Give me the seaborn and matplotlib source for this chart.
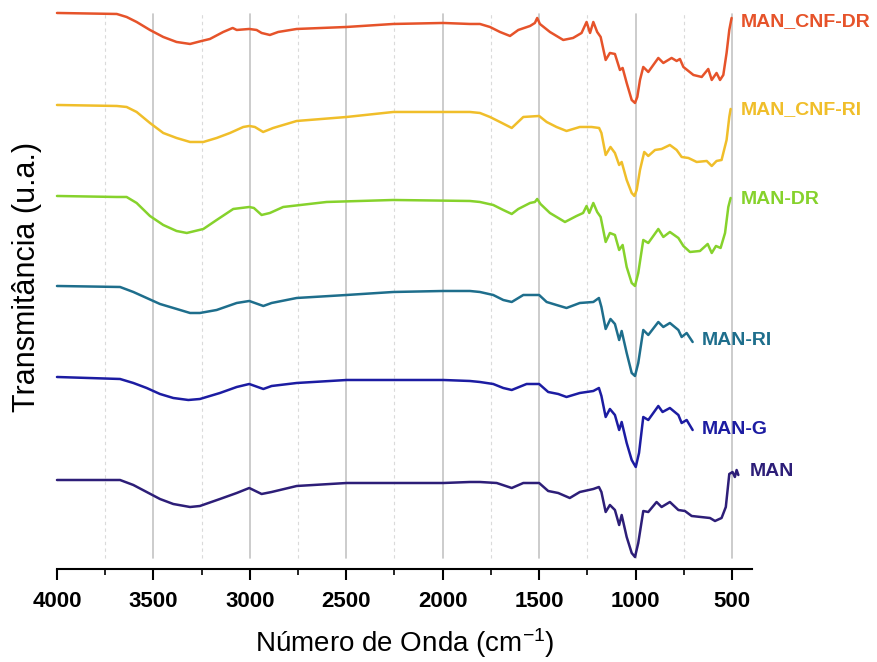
import matplotlib
matplotlib.use("Agg")
import matplotlib.pyplot as plt
from matplotlib.ticker import MultipleLocator
import pandas as pd
import seaborn as sns

# FTIR spectra (wavenumber in cm-1, transmittance in arbitrary stacked units)
cnf_dr_wn = [4000, 3690, 3639, 3587, 3518, 3449, 3380, 3310, 3250, 3207, 3138, 3089, 3068, 3003, 2965,
             2939, 2896, 2853, 2757, 2498, 2256, 1997, 1859, 1807, 1755, 1703, 1651, 1608, 1547, 1522,
             1510, 1496, 1444, 1375, 1324, 1280, 1254, 1236, 1219, 1199, 1181, 1155, 1133, 1107, 1081,
             1067, 1046, 1020, 1003, 991, 977, 960, 934, 908, 882, 856, 813, 787, 770, 752, 700, 657,
             623, 605, 580, 562, 545, 528, 514, 502]
cnf_dr_t = [545, 544, 541, 536, 528, 521, 516, 514, 517, 519, 526, 530, 528, 529, 528,
            525, 523, 526, 529, 531, 534, 535, 534, 534, 531, 526, 522, 528, 532, 535,
            540, 534, 526, 518, 520, 525, 536, 525, 536, 526, 521, 498, 505, 504, 488,
            490, 475, 458, 455, 461, 478, 491, 486, 493, 500, 495, 500, 497, 499, 491, 483, 481,
            489, 478, 485, 478, 483, 505, 528, 540]

cnf_ri_wn = [4000, 3690, 3639, 3587, 3518, 3449, 3380, 3310, 3241, 3172, 3103, 3034, 3003, 2974, 2931,
             2879, 2757, 2498, 2256, 1859, 1807, 1755, 1703, 1642, 1582, 1500, 1461, 1410, 1358, 1289,
             1228, 1189, 1177, 1155, 1130, 1107, 1085, 1072, 1046, 1020, 1006, 994, 977, 955, 934,
             899, 865, 822, 787, 761, 726, 683, 631, 605, 580, 554, 528, 514, 507]
cnf_ri_t = [453, 452, 451, 446, 435, 425, 420, 416, 416, 420, 425, 431, 432, 431, 426,
            430, 437, 441, 446, 446, 445, 441, 436, 430, 441, 442, 436, 431, 427, 431,
            431, 430, 425, 403, 411, 405, 393, 396, 378, 365, 362, 368, 388, 406, 402,
            408, 409, 413, 408, 401, 400, 396, 397, 392, 397, 398, 418, 441, 449]

dr_wn = [4000, 3690, 3639, 3587, 3518, 3449, 3380, 3327, 3241, 3172, 3086, 3003, 2979, 2939, 2896,
         2827, 2602, 2256, 1859, 1807, 1738, 1686, 1642, 1608, 1547, 1522, 1510, 1493, 1444, 1366,
         1306, 1272, 1254, 1240, 1219, 1199, 1181, 1155, 1133, 1107, 1085, 1067, 1046, 1020, 1003,
         986, 960, 934, 882, 856, 822, 778, 752, 718, 666, 626, 605, 583, 559, 536, 519, 507]
dr_t = [362, 361, 361, 355, 342, 333, 327, 325, 329, 338, 349, 351, 350, 343, 345,
        351, 356, 358, 357, 356, 353, 348, 344, 349, 355, 356, 359, 354, 345, 336,
        342, 345, 352, 345, 355, 346, 341, 316, 325, 323, 308, 313, 291, 275, 272,
        285, 318, 315, 329, 321, 326, 320, 312, 306, 307, 314, 305, 312, 310, 325, 351, 360]

ri_wn = [4000, 3673, 3604, 3535, 3466, 3379, 3310, 3259, 3172, 3068, 3003, 2930, 2887, 2757, 2498,
         2256, 1997, 1859, 1807, 1738, 1686, 1642, 1582, 1500, 1461, 1410, 1358, 1289, 1219, 1190,
         1177, 1155, 1130, 1107, 1085, 1072, 1046, 1020, 1003, 986, 960, 934, 882, 856, 822,
         778, 761, 735, 704]
ri_t = [272, 271, 266, 260, 254, 249, 245, 245, 248, 255, 257, 252, 255, 260, 263,
        266, 267, 267, 266, 263, 258, 256, 263, 263, 256, 253, 250, 255, 256, 260,
        251, 229, 239, 234, 218, 227, 205, 185, 182, 195, 228, 223, 236, 231, 235,
        228, 221, 225, 216]

g_wn = [4000, 3673, 3604, 3535, 3466, 3397, 3319, 3259, 3155, 3068, 3003, 2930, 2887, 2757, 2498,
        1997, 1859, 1807, 1738, 1686, 1642, 1565, 1500, 1453, 1401, 1358, 1289, 1219, 1190, 1177,
        1155, 1133, 1107, 1085, 1072, 1046, 1020, 999, 982, 960, 934, 882, 860, 822, 778,
        761, 735, 704]
g_t = [181, 179, 175, 170, 164, 160, 158, 159, 165, 171, 174, 169, 172, 175, 178,
       178, 177, 176, 174, 170, 168, 174, 174, 166, 164, 161, 165, 167, 170, 162,
       141, 149, 143, 128, 136, 115, 98, 91, 105, 141, 138, 152, 146, 150, 143,
       135, 138, 128]

man_wn = [4000, 3673, 3604, 3535, 3466, 3397, 3310, 3259, 3155, 3068, 3003, 2939, 2887, 2757, 2498,
          1997, 1859, 1807, 1720, 1642, 1582, 1500, 1453, 1401, 1341, 1289, 1219, 1190, 1177, 1155,
          1133, 1107, 1085, 1072, 1046, 1020, 1003, 986, 960, 934, 891, 865, 822, 778, 744,
          709, 614, 588, 554, 532, 514, 497, 485, 476, 467]
man_t = [78, 78, 73, 66, 59, 54, 51, 52, 59, 65, 70, 64, 66, 72, 75,
         75, 76, 76, 75, 70, 75, 75, 67, 65, 60, 66, 69, 71, 66, 46,
         53, 48, 33, 43, 21, 5, 1, 15, 47, 46, 56, 51, 56, 48, 47,
         42, 40, 37, 40, 51, 84, 86, 81, 88, 83]

samples = ["MAN_CNF-DR", "MAN_CNF-RI", "MAN-DR", "MAN-RI", "MAN-G", "MAN"]
colors = ["#E6532A", "#F0BE2A", "#86D22C", "#1E6E8C", "#1C1CA2", "#2D1E78"]

# label anchors (wavenumber, transmittance)
label_wn = [453, 453, 453, 656, 656, 407]
label_t = [536, 448, 358, 217, 128, 86]

major_grid = [3500, 3000, 2500, 2000, 1500, 1000, 500]
minor_grid = [3750, 3250, 2750, 2250, 1750, 1250, 750]

spectra = [(cnf_dr_wn, cnf_dr_t), (cnf_ri_wn, cnf_ri_t), (dr_wn, dr_t),
           (ri_wn, ri_t), (g_wn, g_t), (man_wn, man_t)]
frames = []
for name, (wn, t) in zip(samples, spectra):
    frames.append(pd.DataFrame({"wn": wn, "T": t, "amostra": name}))
df = pd.concat(frames, ignore_index=True)

sns.set_theme(style="white")
plt.rcParams["font.family"] = ["Liberation Sans", "DejaVu Sans"]
plt.rcParams["mathtext.default"] = "regular"

fig = plt.figure(figsize=(8.78, 6.62), dpi=100)
ax = fig.add_axes([0.0649, 0.1571, 0.7912, 0.8218])

# vertical reference lines behind the spectra
for g in major_grid:
    ax.axvline(g, color="#c4c4c4", linewidth=1.2, zorder=0)
for g in minor_grid:
    ax.axvline(g, color="#dadada", linewidth=0.8, linestyle=(0, (3, 3)), zorder=0)

sns.lineplot(data=df, x="wn", y="T", hue="amostra", hue_order=samples,
             palette=dict(zip(samples, colors)), sort=False, estimator=None,
             legend=False, linewidth=1.8, ax=ax)
for ln in ax.lines:
    ln.set_clip_on(False)
    ln.set_solid_joinstyle("round")

ax.set_xlim(4000, 398)
ax.set_ylim(0, 544)
ax.set_yticks([])
ax.grid(False)

for side in ["top", "right", "left"]:
    ax.spines[side].set_visible(False)
ax.spines["bottom"].set_position(("outward", 8))
ax.spines["bottom"].set_linewidth(1.5)
ax.spines["bottom"].set_color("black")

ax.xaxis.set_major_locator(MultipleLocator(500))
ax.xaxis.set_minor_locator(MultipleLocator(250))
ax.tick_params(axis="x", which="major", direction="out", length=8, width=1.5,
               labelsize=16, pad=8, bottom=True, colors="black")
ax.tick_params(axis="x", which="minor", direction="out", length=4.5, width=1.2,
               bottom=True, colors="black")
for lab in ax.get_xticklabels():
    lab.set_fontweight("bold")

ax.set_xlabel("Número de Onda (cm$^{-1}$)", fontsize=20, labelpad=10, color="black")
ax.set_ylabel("Transmitância (u.a.)", fontsize=22, color="black")
ax.yaxis.set_label_coords(-0.022, 0.516)

for name, c, x, y in zip(samples, colors, label_wn, label_t):
    ax.text(x, y, name, color=c, fontsize=14, fontweight="bold", ha="left", va="center")

fig.savefig("out.png", dpi=100)
